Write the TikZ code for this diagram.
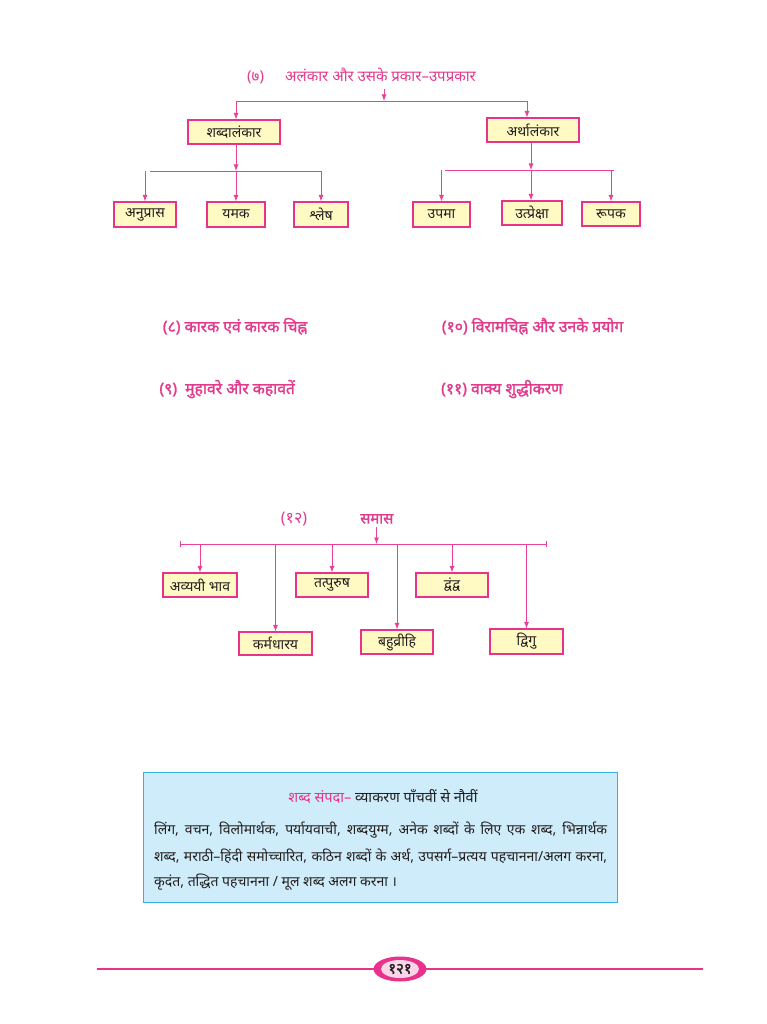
\documentclass[tikz,border=0pt]{standalone}
\usepackage{fontspec}
\setmainfont{Noto Sans}
\newfontfamily\dev[Script=Devanagari]{Noto Sans}
\newfontfamily\devb[Script=Devanagari,FakeBold=1.6]{Noto Sans}
\usetikzlibrary{arrows.meta,shapes.geometric}
\definecolor{pk}{RGB}{236,64,150}
\definecolor{pkb}{RGB}{232,50,140}
\definecolor{ttl}{RGB}{226,58,140}
\definecolor{boxfill}{RGB}{255,249,196}
\definecolor{bluefill}{RGB}{206,236,250}
\definecolor{bluebd}{RGB}{52,176,226}
\definecolor{inpk}{RGB}{250,214,232}
\definecolor{ink}{RGB}{35,30,30}
\tikzset{
  box/.style={draw=pkb, line width=1.1pt, fill=boxfill, inner sep=0pt, text=ink},
  con/.style={draw=pk, line width=0.9pt},
  arr/.style={con, -{Latex[length=6.5pt,width=5pt]}},
  ttltext/.style={text=ttl, inner sep=0pt, anchor=base west},
  hd/.style={text=ttl, inner sep=0pt, anchor=base west, font=\devb\fontsize{15.7}{18}\selectfont},
  para/.style={text=ink, inner sep=0pt, anchor=west, font=\dev\fontsize{14}{16}\selectfont}
}
\begin{document}
\begin{tikzpicture}[x=1pt,y=-1pt, font=\dev\fontsize{14}{16}\selectfont]
\useasboundingbox (0,0) rectangle (767,1024);

% ---------- (7) alankar ----------
\node[ttltext, font=\dev\fontsize{15}{17}\selectfont] (t7n) at (247,81.5) {(७)};
\node[ttltext, font=\dev\fontsize{15}{17}\selectfont] (t7) at (285,81.5) {अलंकार और उसके प्रकार–उपप्रकार};
\coordinate (t7a) at (384,89);
\coordinate (t7b) at (384,101);
\coordinate (tL) at (236,101);
\coordinate (tR) at (527,101);

\node[box, minimum width=92pt, minimum height=24pt] (sabd) at (234,132) {शब्दालंकार};
\node[box, minimum width=92pt, minimum height=24pt] (arth) at (533,130) {अर्थालंकार};

\draw[arr] (t7a) -- (t7b);
\draw[con] (tL) -- (tR);
\draw[arr] (tL) -- (tL |- sabd.north);
\draw[arr] (tR) -- (tR |- arth.north);

\node[box, minimum width=62pt, minimum height=25pt] (anu) at (145,214.5) {अनुप्रास};
\node[box, minimum width=58pt, minimum height=25pt] (yam) at (236,214.5) {यमक};
\node[box, minimum width=54pt, minimum height=25pt] (shl) at (321,214.5) {श्लेष};
\node[box, minimum width=57pt, minimum height=25pt] (upa) at (441.5,214.5) {उपमा};
\node[box, minimum width=60pt, minimum height=24pt] (utp) at (532,213) {उत्प्रेक्षा};
\node[box, minimum width=58pt, minimum height=24pt] (rup) at (611,214) {रूपक};

\coordinate (lL) at (150,171);
\coordinate (lR) at (321,171);
\coordinate (lM) at (236,171);
\draw[arr] (sabd.south -| lM) -- (lM);
\draw[con] (lL) -- (lR);
\draw[arr] (anu.north |- lL) -- (anu.north);
\draw[arr] (lM) -- (yam.north);
\draw[arr] (shl.north |- lL) -- (shl.north);

\coordinate (rL) at (444.5,170);
\coordinate (rR) at (614,170);
\coordinate (rM) at (531,170);
\draw[arr] (arth.south -| rM) -- (rM);
\draw[con] (rL) -- (rR);
\draw[arr] (upa.north |- rL) -- (upa.north);
\draw[arr] (rM) -- (rM |- utp.north);
\draw[arr] (rup.north |- rL) -- (rup.north);

% ---------- headings 8-11 ----------
\node[hd] (h8) at (162.7,332) {(८) कारक एवं कारक चिह्न};
\node[hd] (h10) at (441.7,332) {(१०) विरामचिह्न और उनके प्रयोग};
\node[hd] (h9) at (159.3,394) {(९)\hspace{4pt} मुहावरे और कहावतें};
\node[hd] (h11) at (441,394) {(११) वाक्य शुद्धीकरण};

% ---------- (12) samas ----------
\node[ttltext, font=\dev\fontsize{16}{18}\selectfont] (t12) at (280.7,523.5) {(१२)};
\node[hd, font=\devb\fontsize{15}{17}\selectfont] (sam) at (360,523.5) {समास};
\coordinate (sL) at (180,544);
\coordinate (sR) at (547,544);
\coordinate (sT) at (376.5,527);
\draw[arr] (sT) -- (sT |- sL);
\draw[con, {Bar[width=6pt]}-{Bar[width=6pt]}] (sL) -- (sR);

\node[box, minimum width=74pt, minimum height=24pt] (avy) at (200,585) {अव्ययी भाव};
\node[box, minimum width=72pt, minimum height=24pt] (tat) at (332,585) {तत्पुरुष};
\node[box, minimum width=72pt, minimum height=24pt] (dvn) at (452,585) {द्वंद्व};
\node[box, minimum width=73pt, minimum height=23pt] (kar) at (275.5,643.5) {कर्मधारय};
\node[box, minimum width=72pt, minimum height=24pt] (bah) at (397,642) {बहुव्रीहि};
\node[box, minimum width=73pt, minimum height=25pt] (dvi) at (526.5,641.5) {द्विगु};

\draw[arr] (avy.north |- sL) -- (avy.north);
\draw[arr] (kar.north |- sL) -- (kar.north);
\draw[arr] (tat.north |- sL) -- (tat.north);
\draw[arr] (bah.north |- sL) -- (bah.north);
\draw[arr] (dvn.north |- sL) -- (dvn.north);
\draw[arr] (dvi.north |- sL) -- (dvi.north);

% ---------- shabd sampada box ----------
\node[draw=bluebd, fill=bluefill, line width=1pt, minimum width=474pt, minimum height=130pt, inner sep=0pt] (sp) at (380.3,837.3) {};
\node[inner sep=0pt, text=ink, font=\dev\fontsize{14.5}{16}\selectfont] (sph) at (383,796.7) {\textcolor{pkb}{शब्द संपदा–} व्याकरण पाँचवीं से नौवीं};
\node[para] (p1) at (154,830) {\makebox[453pt][s]{लिंग, वचन, विलोमार्थक, पर्यायवाची, शब्दयुग्म, अनेक शब्दों के लिए एक शब्द, भिन्नार्थक}};
\node[para] (p2) at (154,856.7) {\makebox[453pt][s]{शब्द, मराठी–हिंदी समोच्चारित, कठिन शब्दों के अर्थ, उपसर्ग–प्रत्यय पहचानना/अलग करना,}};
\node[para] (p3) at (154,882.3) {कृदंत, तद्धित पहचानना / मूल शब्द अलग करना ।};

% ---------- footer ----------
\coordinate (fL) at (97,969);
\coordinate (fR) at (703,969);
\draw[pkb, line width=2.2pt] (fL) -- (fR);
\node[ellipse, fill=pkb, minimum width=53pt, minimum height=25pt, inner sep=0pt] (pg) at (400,969) {};
\node[ellipse, fill=inpk, minimum width=38pt, minimum height=18pt, inner sep=0pt, font=\devb\fontsize{15}{16}\selectfont, text=ink] (pgn) at (pg.center) {१२१};
\end{tikzpicture}
\end{document}
